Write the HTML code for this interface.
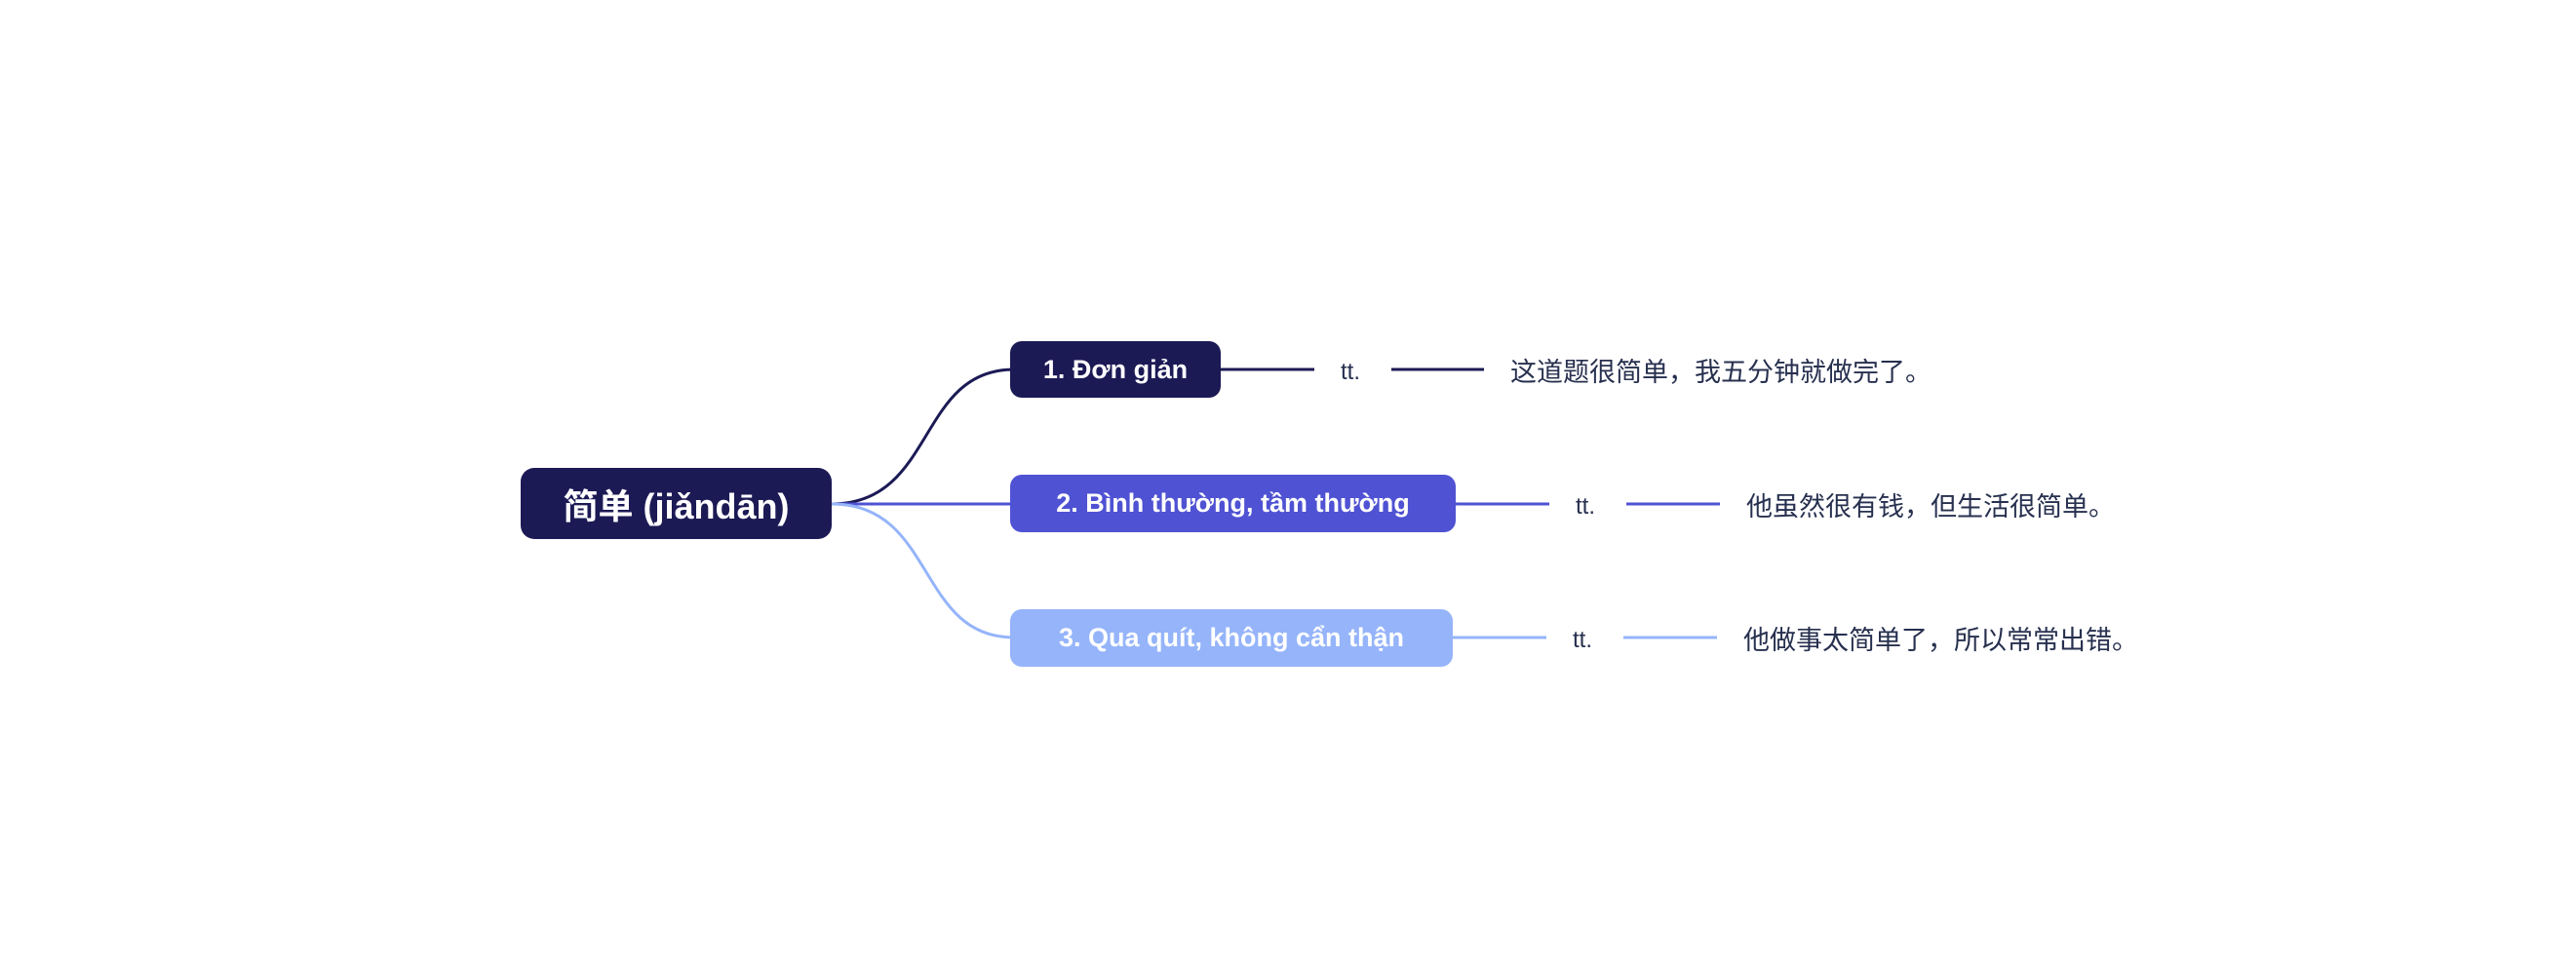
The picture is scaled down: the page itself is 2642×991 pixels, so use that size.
<!DOCTYPE html>
<html><head><meta charset="utf-8"><style>
html,body{margin:0;padding:0;background:#fff;}
body{width:2642px;height:991px;position:relative;overflow:hidden;font-family:"Liberation Sans","Noto Sans CJK SC",sans-serif;}
.n{position:absolute;color:#fff;font-weight:bold;border-radius:12px;display:flex;align-items:center;justify-content:center;white-space:nowrap;}
.t{position:absolute;white-space:nowrap;color:#27304f;font-size:27px;line-height:30px;}
.tt{position:absolute;white-space:nowrap;color:#27304f;font-size:24px;line-height:30px;}
</style></head><body>
<svg width="2642" height="991" style="position:absolute;left:0;top:0">
<g fill="none" stroke-width="3">
<path d="M853 517 C960 517 940 379 1040 379" stroke="#1c1a55"/>
<path d="M853 517 L1040 517" stroke="#4f52d3"/>
<path d="M853 517 C960 517 940 654 1040 654" stroke="#95b4fa"/>
<path d="M1252 379 H1348 M1427 379 H1522" stroke="#1c1a55"/>
<path d="M1493 517 H1589 M1668 517 H1764" stroke="#4f52d3"/>
<path d="M1490 654 H1586 M1665 654 H1761" stroke="#95b4fa"/>
</g></svg>
<div class="n" style="left:534px;top:480px;width:319px;height:73px;background:#1c1a55;font-size:36px;border-radius:14px">简单 (jiǎndān)</div>
<div class="n" style="left:1036px;top:350px;width:216px;height:58px;background:#1c1a55;font-size:27px">1. Đơn giản</div>
<div class="n" style="left:1036px;top:487px;width:457px;height:59px;background:#4f52d3;font-size:27px">2. Bình thường, tầm thường</div>
<div class="n" style="left:1036px;top:625px;width:454px;height:59px;background:#95b4fa;font-size:27px">3. Qua quít, không cẩn thận</div>
<div class="tt" style="left:1375px;top:367px">tt.</div>
<div class="tt" style="left:1616px;top:505px">tt.</div>
<div class="tt" style="left:1613px;top:642px">tt.</div>
<div class="t" style="left:1549px;top:367px">这道题很简单，我五分钟就做完了。</div>
<div class="t" style="left:1791px;top:505px">他虽然很有钱，但生活很简单。</div>
<div class="t" style="left:1788px;top:642px">他做事太简单了，所以常常出错。</div>
</body></html>
